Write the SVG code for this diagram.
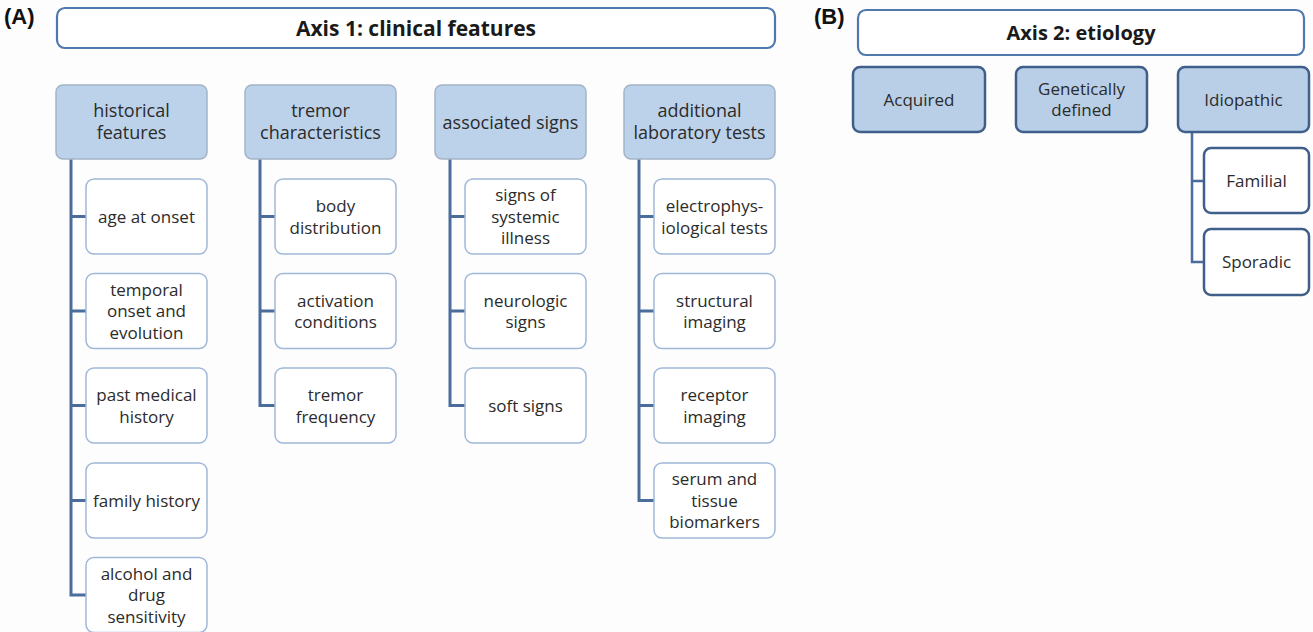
<svg xmlns="http://www.w3.org/2000/svg" width="1313" height="632" viewBox="0 0 1313 632">
<style>
.bg{fill:#fdfdfd}
.axis{fill:#ffffff;stroke:#4f78ad;stroke-width:2.2}
.axt{font-family:"Open Sans",sans-serif;font-weight:bold;fill:#1a1a1a;text-anchor:middle}
.lab{font-family:"Liberation Sans",Arial,sans-serif;font-weight:bold;font-size:22px;fill:#111}
.pa{fill:#bcd2ea;stroke:#a3b4c6;stroke-width:1.5}
.ca{fill:#ffffff;stroke:#9fb8d8;stroke-width:1.5}
.pb{fill:#b9cfe8;stroke:#3f5f8a;stroke-width:2.5}
.cb{fill:#ffffff;stroke:#3f5f8a;stroke-width:2.5}
.t{font-family:"Open Sans",sans-serif;font-size:17px;fill:#2b2b2b;text-anchor:middle}
.tp{font-size:18px}
.con{fill:none;stroke:#4a6d9c;stroke-width:3}
</style>
<rect class="bg" x="0" y="0" width="1313" height="632"/>
<text class="lab" x="4" y="24">(A)</text>
<text class="lab" x="814" y="24">(B)</text>

<g id="connectors">
<path class="con" d="M71,159 V595 H86 M71,216.5 H86 M71,311 H86 M71,405.5 H86 M71,500.5 H86"/>
<path class="con" d="M260,159 V405.5 H275 M260,216.5 H275 M260,311 H275"/>
<path class="con" d="M450,159 V405.5 H465 M450,216.5 H465 M450,311 H465"/>
<path class="con" d="M639,159 V500.5 H654 M639,216.5 H654 M639,311 H654 M639,405.5 H654"/>
<path class="con" d="M1192,132 V262 H1204 M1192,181 H1204" style="stroke-width:2.5"/>
</g>

<g id="axis1"><rect class="axis" x="57" y="8" width="718" height="40" rx="8"/><text class="axt" x="416" y="35.5" font-size="21">Axis 1: clinical features</text></g>
<g id="axis2"><rect class="axis" x="858" y="10" width="446" height="45" rx="8"/><text class="axt" x="1081" y="40" font-size="20">Axis 2: etiology</text></g>

<g id="historical"><rect class="pa" x="56" y="85" width="151" height="74" rx="7"/><text class="t tp" y="117"><tspan x="131.5">historical</tspan><tspan x="131.5" dy="22">features</tspan></text></g>
<g id="tremor"><rect class="pa" x="245" y="85" width="151" height="74" rx="7"/><text class="t tp" y="117"><tspan x="320.5">tremor</tspan><tspan x="320.5" dy="22">characteristics</tspan></text></g>
<g id="associated"><rect class="pa" x="435" y="85" width="151" height="74" rx="7"/><text class="t tp" x="510.5" y="128.5">associated signs</text></g>
<g id="additional"><rect class="pa" x="624" y="85" width="151" height="74" rx="7"/><text class="t tp" y="117"><tspan x="699.5">additional</tspan><tspan x="699.5" dy="22">laboratory tests</tspan></text></g>

<g id="age"><rect class="ca" x="86" y="179" width="121" height="75" rx="8"/><text class="t" x="146.5" y="222.5">age at onset</text></g>
<g id="temporal"><rect class="ca" x="86" y="273.5" width="121" height="75" rx="8"/><text class="t" y="295.5"><tspan x="146.5">temporal</tspan><tspan x="146.5" dy="21.5">onset and</tspan><tspan x="146.5" dy="21.5">evolution</tspan></text></g>
<g id="pastmed"><rect class="ca" x="86" y="368" width="121" height="75" rx="8"/><text class="t" y="401"><tspan x="146.5">past medical</tspan><tspan x="146.5" dy="21.5">history</tspan></text></g>
<g id="family"><rect class="ca" x="86" y="463" width="121" height="75" rx="8"/><text class="t" x="146.5" y="506.5">family history</text></g>
<g id="alcohol"><rect class="ca" x="86" y="557.5" width="121" height="75" rx="8"/><text class="t" y="579.5"><tspan x="146.5">alcohol and</tspan><tspan x="146.5" dy="21.5">drug</tspan><tspan x="146.5" dy="21.5">sensitivity</tspan></text></g>

<g id="body"><rect class="ca" x="275" y="179" width="121" height="75" rx="8"/><text class="t" y="212"><tspan x="335.5">body</tspan><tspan x="335.5" dy="21.5">distribution</tspan></text></g>
<g id="activation"><rect class="ca" x="275" y="273.5" width="121" height="75" rx="8"/><text class="t" y="306.5"><tspan x="335.5">activation</tspan><tspan x="335.5" dy="21.5">conditions</tspan></text></g>
<g id="frequency"><rect class="ca" x="275" y="368" width="121" height="75" rx="8"/><text class="t" y="401"><tspan x="335.5">tremor</tspan><tspan x="335.5" dy="21.5">frequency</tspan></text></g>

<g id="systemic"><rect class="ca" x="465" y="179" width="121" height="75" rx="8"/><text class="t" y="201"><tspan x="525.5">signs of</tspan><tspan x="525.5" dy="21.5">systemic</tspan><tspan x="525.5" dy="21.5">illness</tspan></text></g>
<g id="neurologic"><rect class="ca" x="465" y="273.5" width="121" height="75" rx="8"/><text class="t" y="306.5"><tspan x="525.5">neurologic</tspan><tspan x="525.5" dy="21.5">signs</tspan></text></g>
<g id="soft"><rect class="ca" x="465" y="368" width="121" height="75" rx="8"/><text class="t" x="525.5" y="411.5">soft signs</text></g>

<g id="electro"><rect class="ca" x="654" y="179" width="121" height="75" rx="8"/><text class="t" y="212"><tspan x="714.5">electrophys-</tspan><tspan x="714.5" dy="21.5">iological tests</tspan></text></g>
<g id="structural"><rect class="ca" x="654" y="273.5" width="121" height="75" rx="8"/><text class="t" y="306.5"><tspan x="714.5">structural</tspan><tspan x="714.5" dy="21.5">imaging</tspan></text></g>
<g id="receptor"><rect class="ca" x="654" y="368" width="121" height="75" rx="8"/><text class="t" y="401"><tspan x="714.5">receptor</tspan><tspan x="714.5" dy="21.5">imaging</tspan></text></g>
<g id="serum"><rect class="ca" x="654" y="463" width="121" height="75" rx="8"/><text class="t" y="485"><tspan x="714.5">serum and</tspan><tspan x="714.5" dy="21.5">tissue</tspan><tspan x="714.5" dy="21.5">biomarkers</tspan></text></g>

<g id="acquired"><rect class="pb" x="853" y="67" width="132" height="65" rx="7"/><text class="t" x="919" y="105.5">Acquired</text></g>
<g id="genetic"><rect class="pb" x="1016" y="67" width="131" height="65" rx="7"/><text class="t" y="95"><tspan x="1081.5">Genetically</tspan><tspan x="1081.5" dy="20.5">defined</tspan></text></g>
<g id="idiopathic"><rect class="pb" x="1178" y="67" width="131" height="65" rx="7"/><text class="t" x="1243.5" y="105.5">Idiopathic</text></g>
<g id="familial"><rect class="cb" x="1204" y="148" width="105" height="65" rx="7"/><text class="t" x="1256.5" y="186.5">Familial</text></g>
<g id="sporadic"><rect class="cb" x="1204" y="229" width="105" height="66" rx="7"/><text class="t" x="1256.5" y="267.5">Sporadic</text></g>
</svg>
